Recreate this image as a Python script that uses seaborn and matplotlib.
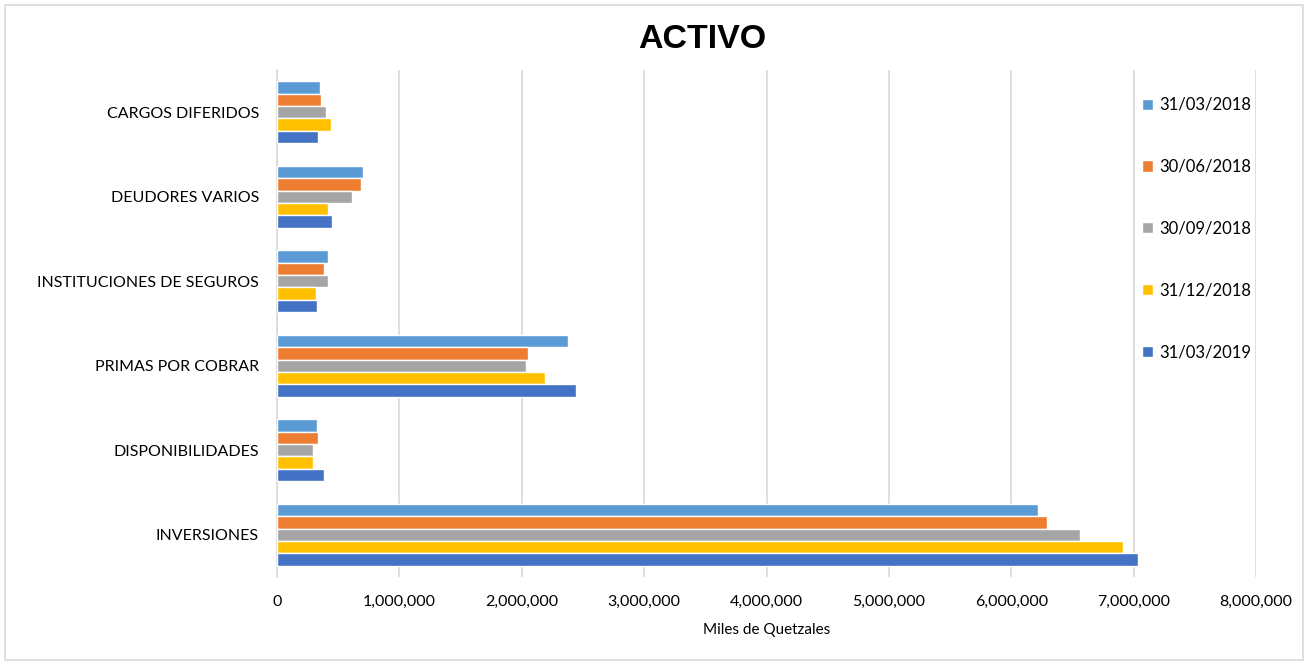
import pandas as pd
import seaborn as sns
import matplotlib.pyplot as plt
from matplotlib.patches import Rectangle
from matplotlib.ticker import FuncFormatter

# categories top -> bottom as drawn
categorias = ["CARGOS DIFERIDOS", "DEUDORES VARIOS", "INSTITUCIONES DE SEGUROS",
              "PRIMAS POR COBRAR", "DISPONIBILIDADES", "INVERSIONES"]
fechas = ["31/03/2018", "30/06/2018", "30/09/2018", "31/12/2018", "31/03/2019"]
colores = ["#5B9BD5", "#ED7D31", "#A5A5A5", "#FFC000", "#4472C4"]

# miles de quetzales, same order as categorias
q1_2018 = [355000, 700000, 415000, 2378000, 323000, 6215000]
q2_2018 = [360000, 683000, 385000, 2050000, 337000, 6290000]
q3_2018 = [398000, 615000, 418000, 2035000, 296000, 6565000]
q4_2018 = [440000, 420000, 320000, 2193000, 298000, 6913000]
q1_2019 = [336000, 450000, 328000, 2443000, 384000, 7038000]

series = [q1_2018, q2_2018, q3_2018, q4_2018, q1_2019]
rows = []
for fecha, vals in zip(fechas, series):
    for cat, v in zip(categorias, vals):
        rows.append({"categoria": cat, "fecha": fecha, "valor": v})
df = pd.DataFrame(rows)

sns.set_style("white")
plt.rcParams["font.family"] = ["Lato", "DejaVu Sans"]
plt.rcParams["text.color"] = "black"
plt.rcParams["axes.labelcolor"] = "black"

fig = plt.figure(figsize=(13.08, 6.62), dpi=100)
ax = fig.add_axes([277 / 1308, 1 - 577 / 662, (1256 - 277) / 1308, (577 - 70) / 662])

sns.barplot(data=df, y="categoria", x="valor", hue="fecha", order=categorias,
            hue_order=fechas, palette=colores, orient="h", width=0.73,
            saturation=1, ax=ax, legend=True, zorder=3)

ax.set_xlim(0, 8000000)
ax.set_xticks(range(0, 8000001, 1000000))
ax.xaxis.set_major_formatter(FuncFormatter(lambda v, p: f"{int(v):,}"))
ax.grid(axis="x", color="#D9D9D9", linewidth=1.2, zorder=0)
ax.set_axisbelow(True)
for s in ["top", "right", "bottom"]:
    ax.spines[s].set_visible(False)
ax.spines["left"].set_color("#D9D9D9")
ax.spines["left"].set_linewidth(1.2)
ax.tick_params(axis="both", length=0, labelsize=11.5, colors="black")
ax.tick_params(axis="y", pad=13)
ax.tick_params(axis="x", pad=13)
ax.set_ylabel("")
ax.set_xlabel("Miles de Quetzales", fontsize=11, labelpad=10)

handles, labels = ax.get_legend_handles_labels()
ax.get_legend().remove()
fig.legend(handles, labels, loc="upper left", bbox_to_anchor=(1127 / 1308, 1 - 82 / 662),
           frameon=False, fontsize=12, handlelength=0.65, handleheight=0.65,
           handletextpad=0.4, labelspacing=2.75)

fig.text(0.537, 1 - 40 / 662, "ACTIVO", ha="center", va="center", fontsize=24.5,
         fontweight="bold", family="Liberation Sans", color="black")

fig.patches.append(Rectangle((5 / 1308, 2 / 662), 1298 / 1308, 655 / 662,
                             transform=fig.transFigure, fill=False,
                             edgecolor="#D9D9D9", linewidth=1.2))

fig.savefig("out.png", dpi=100)
